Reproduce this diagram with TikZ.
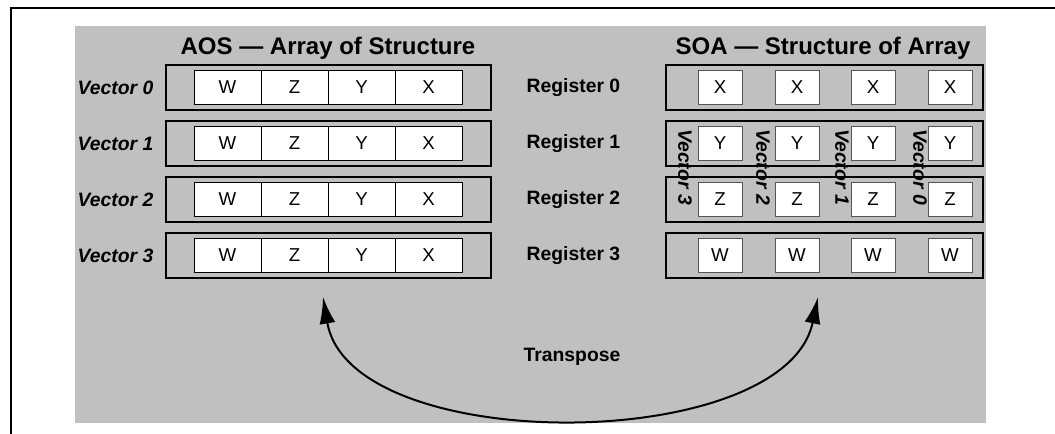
\documentclass[tikz,border=0pt]{standalone}
\usepackage{fontspec}
\setmainfont{Liberation Sans}
\usetikzlibrary{arrows.meta}
\definecolor{fondo}{HTML}{C0C0C0}
\definecolor{bordegris}{HTML}{555555}
\begin{document}
\begin{tikzpicture}[x=0.75pt,y=-0.75pt,
  fila/.style={draw, line width=0.8pt, fill=fondo, minimum height=33.75pt, inner sep=0pt},
  celda/.style={draw, line width=0.6pt, fill=white, minimum height=25.5pt, inner sep=0pt, font=\fontsize{14}{16}\selectfont},
  titulo/.style={font=\fontsize{18}{21}\selectfont\bfseries},
  etiqueta/.style={font=\fontsize{14.5}{17}\selectfont\bfseries},
  vector/.style={font=\fontsize{14.5}{17}\selectfont\bfseries\itshape}]
  \useasboundingbox (0,0) rectangle (1055,434);
  % Fondo y marco
  \fill[fondo] (75,26) rectangle (986,423);
  \draw[line width=1.5pt] (11,434) -- (11,8) -- (1055,8);
  % Titulos
  \node[titulo] (aos) at (328,48) {AOS — Array of Structure};
  \node[titulo] (soa) at (823,48) {SOA — Structure of Array};
  % Array of Structure
  \foreach \i in {0,...,3} {
    \node[fila, minimum width=243.75pt] (v\i) at (328.5,87.5+56*\i) {};
    \node[vector, anchor=east] (lv\i) at (158,88+56*\i) {Vector \i};
    \foreach \c/\t [count=\j] in {227.5/W,294.5/Z,361.5/Y,428.5/X}
      \node[celda, minimum width=50.25pt] (a\i\j) at (\c,87+56*\i) {\t};
  }
  % Structure of Array
  \foreach \i/\t in {0/X,1/Y,2/Z,3/W} {
    \node[fila, minimum width=237.75pt] (r\i) at (824.5,87.5+56*\i) {};
    \node[etiqueta, anchor=west] (lr\i) at (522,88+56*\i) {Register \i};
    \foreach \c [count=\j] in {720,797,873,950}
      \node[celda, draw=bordegris, minimum width=33pt] (s\i\j) at (\c,87+56*\i) {\t};
  }
  % Vectores en vertical
  \foreach \c/\k in {685/3,763/2,842/1,920/0}
    \node[vector, rotate=-90] (sv\k) at (\c,167) {Vector \k};
  % Transposicion
  \coordinate (izq) at (323,297);
  \coordinate (der) at (818,297);
  \draw[line width=1.5pt, {Latex[length=20pt,width=12pt]}-{Latex[length=20pt,width=12pt]}]
    (izq) .. controls (350,457) and (785,455) .. (der);
  \node[etiqueta] (tr) at (572,357) {Transpose};
\end{tikzpicture}
\end{document}
